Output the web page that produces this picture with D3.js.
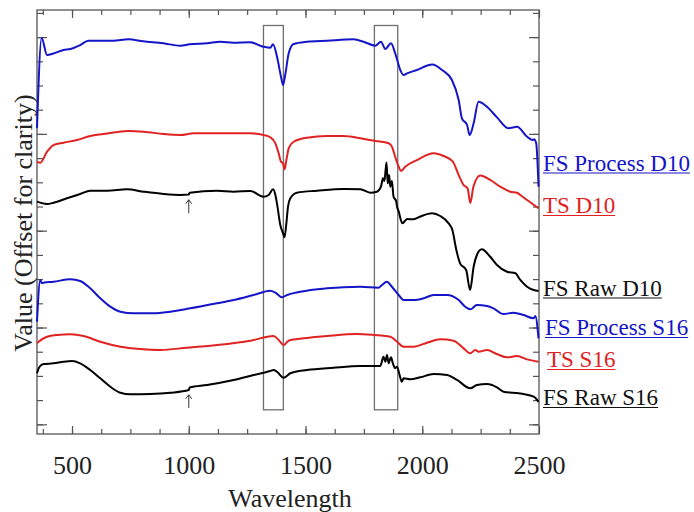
<!DOCTYPE html>
<html>
<head>
<meta charset="utf-8">
<script src="https://cdn.jsdelivr.net/npm/d3@7"></script>
<style>
  body { margin: 0; background: #fff; }
  text { font-family: "Liberation Serif", "Times New Roman", serif; }
</style>
</head>
<body>
<div id="plot"></div>
<script>
var margin = { top: 10, right: 155, bottom: 78, left: 37 }
  , width = 694 - margin.left - margin.right
  , height = 512 - margin.top - margin.bottom;

// spectra, [wavelength, offset value]
var fsProcessD10 = [[350,3.06],[370,3.99],[393,3.815],[420,3.83],[463,3.867],[493,3.877],[535,3.918],[570,3.963],[621,3.963],[677,3.963],[741,3.977],[805,3.957],[891,3.936],[964,3.911],[1004,3.926],[1079,3.936],[1135,3.952],[1191,3.942],[1263,3.946],[1319,3.901],[1349,3.89],[1361,3.926],[1378,3.797],[1395,3.591],[1404,3.505],[1413,3.608],[1428,3.833],[1449,3.929],[1506,3.952],[1592,3.963],[1706,3.977],[1749,3.952],[1799,3.911],[1823,3.952],[1842,3.877],[1866,3.936],[1884,3.833],[1906,3.66],[1920,3.608],[1935,3.626],[1977,3.66],[2043,3.717],[2085,3.66],[2127,3.557],[2156,3.35],[2170,3.161],[2192,3.092],[2203,2.989],[2220,3.11],[2241,3.333],[2277,3.281],[2320,3.171],[2370,3.058],[2406,3.074],[2449,2.971],[2474,2.937],[2479,2.944],[2488,2.903],[2498,2.455]]

var tsD10 = [[350,2.713],[364,2.702],[393,2.816],[421,2.885],[464,2.909],[521,2.937],[578,2.978],[635,2.999],[685,3.017],[742,3.03],[807,3.023],[892,2.999],[964,2.989],[1021,3.006],[1121,3.006],[1264,3.006],[1320,2.989],[1349,2.965],[1371,2.903],[1385,2.8],[1395,2.713],[1404,2.696],[1410,2.634],[1418,2.73],[1428,2.851],[1449,2.919],[1506,2.961],[1592,2.978],[1663,2.978],[1735,2.955],[1799,2.927],[1856,2.903],[1870,2.868],[1884,2.764],[1899,2.661],[1909,2.617],[1927,2.661],[1977,2.73],[2049,2.8],[2091,2.772],[2131,2.713],[2156,2.575],[2177,2.472],[2194,2.438],[2206,2.286],[2219,2.455],[2248,2.57],[2291,2.524],[2334,2.455],[2377,2.403],[2406,2.393],[2420,2.369],[2449,2.317],[2498,2.231]]

var fsRawD10 = [[350,2.3],[393,2.276],[421,2.289],[478,2.335],[535,2.379],[578,2.413],[650,2.413],[735,2.428],[807,2.403],[892,2.379],[964,2.369],[1000,2.374],[1004,2.393],[1121,2.413],[1192,2.403],[1264,2.41],[1320,2.351],[1342,2.369],[1361,2.428],[1371,2.369],[1380,2.248],[1392,2.059],[1404,1.973],[1410,1.932],[1418,2.076],[1425,2.248],[1435,2.335],[1463,2.393],[1549,2.413],[1663,2.431],[1735,2.428],[1777,2.393],[1806,2.403],[1823,2.455],[1832,2.541],[1838,2.513],[1843,2.627],[1847,2.705],[1852,2.49],[1858,2.575],[1863,2.455],[1870,2.513],[1877,2.351],[1888,2.307],[1892,2.248],[1900,2.193],[1906,2.131],[1915,2.076],[1935,2.121],[1963,2.118],[1992,2.147],[2042,2.18],[2077,2.152],[2113,2.076],[2129,2.007],[2146,1.801],[2162,1.663],[2188,1.594],[2205,1.387],[2220,1.628],[2234,1.749],[2255,1.808],[2291,1.731],[2320,1.646],[2363,1.576],[2399,1.56],[2420,1.491],[2449,1.421],[2477,1.387],[2498,1.377]]

var fsProcessS16 = [[350,1.06],[364,1.491],[371,1.457],[378,1.463],[421,1.473],[493,1.498],[535,1.48],[578,1.405],[621,1.302],[664,1.215],[707,1.163],[764,1.147],[849,1.147],[921,1.163],[1007,1.198],[1121,1.25],[1192,1.284],[1278,1.336],[1349,1.38],[1371,1.36],[1399,1.312],[1421,1.336],[1478,1.37],[1592,1.405],[1735,1.421],[1813,1.411],[1827,1.439],[1849,1.473],[1870,1.421],[1899,1.336],[1920,1.284],[1963,1.284],[2006,1.302],[2049,1.336],[2106,1.336],[2156,1.284],[2184,1.215],[2206,1.188],[2234,1.232],[2277,1.222],[2305,1.198],[2348,1.139],[2391,1.153],[2434,1.129],[2477,1.095],[2484,1.119],[2498,0.888]]

var tsS16 = [[350,0.837],[357,0.853],[393,0.905],[436,0.923],[493,0.93],[550,0.912],[621,0.853],[707,0.802],[792,0.778],[878,0.768],[992,0.791],[1121,0.819],[1264,0.864],[1363,0.912],[1385,0.871],[1406,0.819],[1428,0.864],[1492,0.888],[1592,0.912],[1720,0.933],[1792,0.923],[1863,0.905],[1892,0.853],[1920,0.802],[1963,0.802],[2020,0.843],[2077,0.878],[2134,0.864],[2177,0.785],[2206,0.733],[2227,0.768],[2241,0.75],[2277,0.768],[2320,0.726],[2363,0.692],[2406,0.706],[2449,0.671],[2498,0.647]]

var fsRawS16 = [[350,0.527],[361,0.595],[378,0.623],[421,0.63],[464,0.647],[500,0.654],[535,0.63],[578,0.561],[621,0.475],[664,0.388],[707,0.326],[750,0.31],[835,0.313],[921,0.326],[1000,0.354],[1004,0.38],[1078,0.406],[1192,0.458],[1278,0.509],[1349,0.551],[1363,0.561],[1378,0.543],[1406,0.481],[1435,0.527],[1506,0.561],[1620,0.585],[1735,0.602],[1820,0.602],[1834,0.698],[1842,0.647],[1849,0.716],[1856,0.63],[1866,0.692],[1875,0.623],[1884,0.579],[1892,0.595],[1903,0.509],[1913,0.44],[1920,0.475],[1949,0.465],[1992,0.486],[2049,0.52],[2106,0.509],[2149,0.458],[2206,0.372],[2234,0.406],[2277,0.416],[2320,0.382],[2348,0.337],[2391,0.326],[2434,0.313],[2477,0.285],[2498,0.233]]

var seriesData = [fsProcessD10, tsD10, fsRawD10, fsProcessS16, tsS16, fsRawS16]
var seriesNames = ["FS Process D10", "TS D10", "FS Raw D10", "FS Process S16", "TS S16", "FS Raw S16"]
var seriesColors = ["#1414c8", "#e02222", "#000000", "#1414c8", "#e02222", "#000000"]

// highlighted bands [from, to] in wavelength, and their value extent
var bands = [[1320, 1405], [1795, 1895]]
var bandExtent = [0.15, 4.12]

// little arrows at the 1000 nm detector join: [wavelength, tail, tip]
var arrows = [[1000, 2.18, 2.32], [1000, 0.17, 0.305]]

var xMajor = [500, 1000, 1500, 2000, 2500]
var xMinor = d3.range(375, 2500, 125)
var yMajor = [0, 1, 2, 3, 4]
var yMinor = d3.range(0, 4.3, 0.25)

// where the series names sit, right of the frame (svg px)
var labelPos = [[543, 170.5], [543, 213], [543, 295.5], [545, 335], [547, 367], [543, 405]]

var svg = d3.select("#plot")
  .append("svg")
  .attr("width", 694)
  .attr("height", 512)

var g = svg.append("g")
  .attr("transform", "translate(" + margin.left + "," + margin.top + ")")

var xScale = d3.scaleLinear()
  .domain([350, 2500])
  .range([0, width])

var yScale = d3.scaleLinear()
  .domain([-0.1, 4.28])
  .range([height, 0])

var tickColor = "#555"

function styleAxis(sel) {
  sel.select(".domain").remove()
  sel.selectAll("line").attr("stroke", tickColor).attr("stroke-width", 1.2)
}

// x ticks, bottom and top, pointing inward
g.append("g")
  .attr("transform", "translate(0," + height + ")")
  .call(d3.axisBottom(xScale).tickValues(xMinor).tickSize(-5).tickFormat(""))
  .call(styleAxis)

g.append("g")
  .attr("transform", "translate(0," + height + ")")
  .call(d3.axisBottom(xScale).tickValues(xMajor).tickSize(-8).tickSizeOuter(0).tickPadding(22).tickFormat(d3.format("d")))
  .call(styleAxis)
  .call(a => a.selectAll("text")
    .attr("font-size", 26)
    .attr("fill", "#222")
    .style("font-family", '"Liberation Serif", "Times New Roman", serif'))

g.append("g")
  .call(d3.axisTop(xScale).tickValues(xMinor).tickSize(-5).tickFormat(""))
  .call(styleAxis)

g.append("g")
  .call(d3.axisTop(xScale).tickValues(xMajor).tickSize(-8).tickFormat(""))
  .call(styleAxis)

// y ticks, left and right, no labels
g.append("g")
  .call(d3.axisLeft(yScale).tickValues(yMinor).tickSize(-6).tickFormat(""))
  .call(styleAxis)

g.append("g")
  .call(d3.axisLeft(yScale).tickValues(yMajor).tickSize(-10).tickFormat(""))
  .call(styleAxis)

g.append("g")
  .attr("transform", "translate(" + width + ",0)")
  .call(d3.axisRight(yScale).tickValues(yMinor).tickSize(-6).tickFormat(""))
  .call(styleAxis)

g.append("g")
  .attr("transform", "translate(" + width + ",0)")
  .call(d3.axisRight(yScale).tickValues(yMajor).tickSize(-10).tickFormat(""))
  .call(styleAxis)

// frame
g.append("rect")
  .attr("x", 0)
  .attr("y", 0)
  .attr("width", width)
  .attr("height", height)
  .attr("fill", "none")
  .attr("stroke", tickColor)
  .attr("stroke-width", 1.3)

// band boxes
g.selectAll(".band")
  .data(bands)
  .enter()
  .append("rect")
  .attr("class", "band")
  .attr("x", d => xScale(d[0]))
  .attr("width", d => xScale(d[1]) - xScale(d[0]))
  .attr("y", yScale(bandExtent[1]))
  .attr("height", yScale(bandExtent[0]) - yScale(bandExtent[1]))
  .attr("fill", "none")
  .attr("stroke", "#6e6e6e")
  .attr("stroke-width", 1.3)

var line = d3.line()
  .x(d => xScale(d[0]))
  .y(d => yScale(d[1]))
  .curve(d3.curveMonotoneX)

g.selectAll(".spectrum")
  .data(seriesData)
  .enter()
  .append("path")
  .attr("class", "spectrum")
  .attr("d", line)
  .attr("fill", "none")
  .attr("stroke", (d, i) => seriesColors[i])
  .attr("stroke-width", 2)
  .attr("stroke-linejoin", "round")

// arrows
arrows.forEach(function (a) {
  var ax = xScale(a[0]), y0 = yScale(a[1]), y1 = yScale(a[2])
  g.append("line")
    .attr("x1", ax).attr("x2", ax)
    .attr("y1", y0).attr("y2", y1)
    .attr("stroke", "#333").attr("stroke-width", 1)
  g.append("path")
    .attr("d", "M" + (ax - 3) + "," + (y1 + 4) + "L" + ax + "," + y1 + "L" + (ax + 3) + "," + (y1 + 4))
    .attr("fill", "none")
    .attr("stroke", "#333").attr("stroke-width", 1)
})

// series names, underlined
seriesNames.forEach(function (name, i) {
  var col = seriesColors[i] == "#000000" ? "#111" : seriesColors[i]
  var t = svg.append("text")
    .attr("x", labelPos[i][0])
    .attr("y", labelPos[i][1])
    .attr("font-size", 23)
    .attr("fill", col)
    .text(name)
  var w = t.node().getComputedTextLength()
  svg.append("line")
    .attr("x1", labelPos[i][0])
    .attr("x2", labelPos[i][0] + w)
    .attr("y1", labelPos[i][1] + 2.5)
    .attr("y2", labelPos[i][1] + 2.5)
    .attr("stroke", col)
    .attr("stroke-width", 1.1)
})

// axis titles
svg.append("text")
  .attr("x", 290)
  .attr("y", 507)
  .attr("text-anchor", "middle")
  .attr("font-size", 26)
  .attr("fill", "#222")
  .text("Wavelength")

svg.append("text")
  .attr("transform", "translate(31.5,223) rotate(-90)")
  .attr("text-anchor", "middle")
  .attr("font-size", 26)
  .attr("fill", "#222")
  .text("Value (Offset for clarity)")
</script>
</body>
</html>
